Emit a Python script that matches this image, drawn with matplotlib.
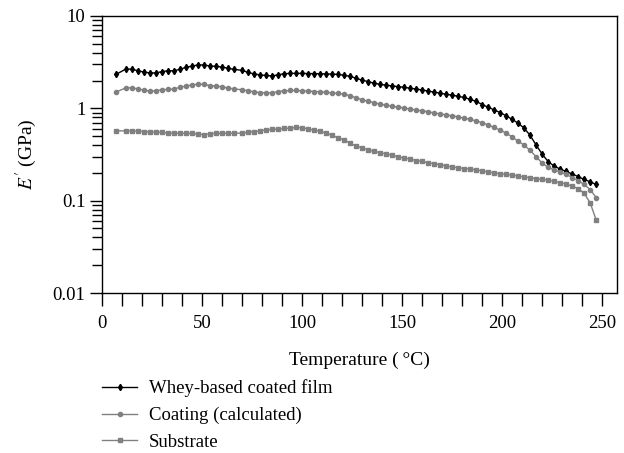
import matplotlib
matplotlib.use("Agg")
import matplotlib.pyplot as plt
from matplotlib.ticker import MultipleLocator, LogLocator, NullFormatter, FixedLocator

plt.rcParams['font.family'] = ['Liberation Serif', 'DejaVu Serif']
plt.rcParams['mathtext.fontset'] = 'stix'

# temperature (deg C) of each measurement
temperature = [7, 12, 15, 18, 21, 24, 27, 30, 33, 36, 39, 42, 45, 48, 51, 54, 57, 60, 63, 66,
               70, 73, 76, 79, 82, 85, 88, 91, 94, 97, 100, 103, 106, 109, 112, 115, 118, 121, 124, 127,
               130, 133, 136, 139, 142, 145, 148, 151, 154, 157, 160, 163, 166, 169, 172, 175, 178, 181, 184, 187,
               190, 193, 196, 199, 202, 205, 208, 211, 214, 217, 220, 223, 226, 229, 232, 235, 238, 241, 244, 247]

# storage modulus E' (GPa)
whey_film = [2.33, 2.67, 2.65, 2.55, 2.47, 2.42, 2.42, 2.50, 2.55, 2.55, 2.65, 2.78, 2.87, 2.95, 2.95, 2.87, 2.85, 2.80, 2.72, 2.64,
             2.58, 2.45, 2.36, 2.30, 2.27, 2.24, 2.31, 2.37, 2.39, 2.39, 2.39, 2.38, 2.38, 2.37, 2.36, 2.35, 2.33, 2.28, 2.22, 2.12,
             2.02, 1.95, 1.87, 1.82, 1.78, 1.75, 1.72, 1.69, 1.65, 1.62, 1.58, 1.54, 1.50, 1.46, 1.42, 1.39, 1.35, 1.31, 1.25, 1.19,
             1.10, 1.03, 0.96, 0.90, 0.83, 0.76, 0.69, 0.61, 0.51, 0.40, 0.32, 0.265, 0.237, 0.220, 0.207, 0.195, 0.182, 0.170, 0.160, 0.150]

coating = [1.50, 1.67, 1.67, 1.62, 1.57, 1.54, 1.55, 1.59, 1.60, 1.62, 1.69, 1.75, 1.79, 1.83, 1.82, 1.76, 1.75, 1.71, 1.66, 1.62,
           1.59, 1.55, 1.51, 1.48, 1.48, 1.47, 1.52, 1.55, 1.56, 1.56, 1.55, 1.54, 1.52, 1.51, 1.49, 1.47, 1.45, 1.42, 1.37, 1.30,
           1.24, 1.19, 1.15, 1.11, 1.08, 1.05, 1.03, 1.01, 0.98, 0.96, 0.94, 0.92, 0.89, 0.87, 0.85, 0.83, 0.81, 0.78, 0.76, 0.73,
           0.70, 0.66, 0.62, 0.58, 0.54, 0.49, 0.44, 0.40, 0.35, 0.30, 0.255, 0.230, 0.215, 0.205, 0.193, 0.178, 0.165, 0.150, 0.132, 0.108]

substrate = [0.57, 0.57, 0.57, 0.567, 0.56, 0.555, 0.55, 0.55, 0.54, 0.537, 0.537, 0.535, 0.535, 0.525, 0.52, 0.53, 0.535, 0.536, 0.536, 0.536,
             0.54, 0.55, 0.56, 0.57, 0.585, 0.59, 0.595, 0.605, 0.61, 0.62, 0.615, 0.60, 0.58, 0.565, 0.54, 0.51, 0.48, 0.455, 0.42, 0.39,
             0.375, 0.355, 0.342, 0.332, 0.32, 0.312, 0.297, 0.29, 0.282, 0.272, 0.266, 0.257, 0.251, 0.245, 0.239, 0.231, 0.228, 0.223, 0.220, 0.216,
             0.210, 0.205, 0.200, 0.196, 0.193, 0.189, 0.185, 0.181, 0.177, 0.173, 0.170, 0.167, 0.162, 0.157, 0.151, 0.144, 0.135, 0.120, 0.095, 0.062]

grey = '#808080'
fs = 13.5

fig = plt.figure(figsize=(6.24, 4.53), dpi=100)
ax = fig.add_axes([0.1635, 0.3532, 0.8255, 0.6115])

ax.plot(temperature, whey_film, color='black', lw=1.0, marker='d', ms=3.2,
        label='Whey-based coated film')
ax.plot(temperature, coating, color=grey, lw=1.0, marker='o', ms=3.0,
        label='Coating (calculated)')
ax.plot(temperature, substrate, color=grey, lw=1.0, marker='s', ms=3.0,
        label='Substrate')

ax.set_yscale('log')
ax.set_ylim(0.01, 10)
ax.set_xlim(0, 257.5)
ax.set_yticks([0.01, 0.1, 1, 10])
ax.set_yticklabels(['0.01', '0.1', '1', '10'])
ax.yaxis.set_minor_locator(LogLocator(base=10, subs=range(2, 10)))
ax.yaxis.set_minor_formatter(NullFormatter())
ax.xaxis.set_major_locator(FixedLocator([0, 50, 100, 150, 200, 250]))
ax.xaxis.set_minor_locator(MultipleLocator(10))

ax.tick_params(which='major', direction='out', length=9, width=1.0, labelsize=fs)
ax.tick_params(which='minor', direction='out', length=7, width=1.0)
ax.tick_params(axis='x', which='minor', length=9)
ax.tick_params(axis='x', which='major', pad=7)
ax.tick_params(axis='y', which='major', pad=3)
for s in ax.spines.values():
    s.set_linewidth(1.0)

ax.set_xlabel('Temperature (\u2009°C)', fontsize=fs + 0.5, labelpad=14)
ax.set_ylabel(r"$E'$ (GPa)", fontsize=fs + 0.5, labelpad=10)

fig.legend(loc='upper left', bbox_to_anchor=(0.1635, 0.162), frameon=False,
           fontsize=fs, handlelength=1.87, labelspacing=0.5, borderaxespad=0,
           borderpad=0, handletextpad=0.64)

fig.savefig('out.png', dpi=100)
